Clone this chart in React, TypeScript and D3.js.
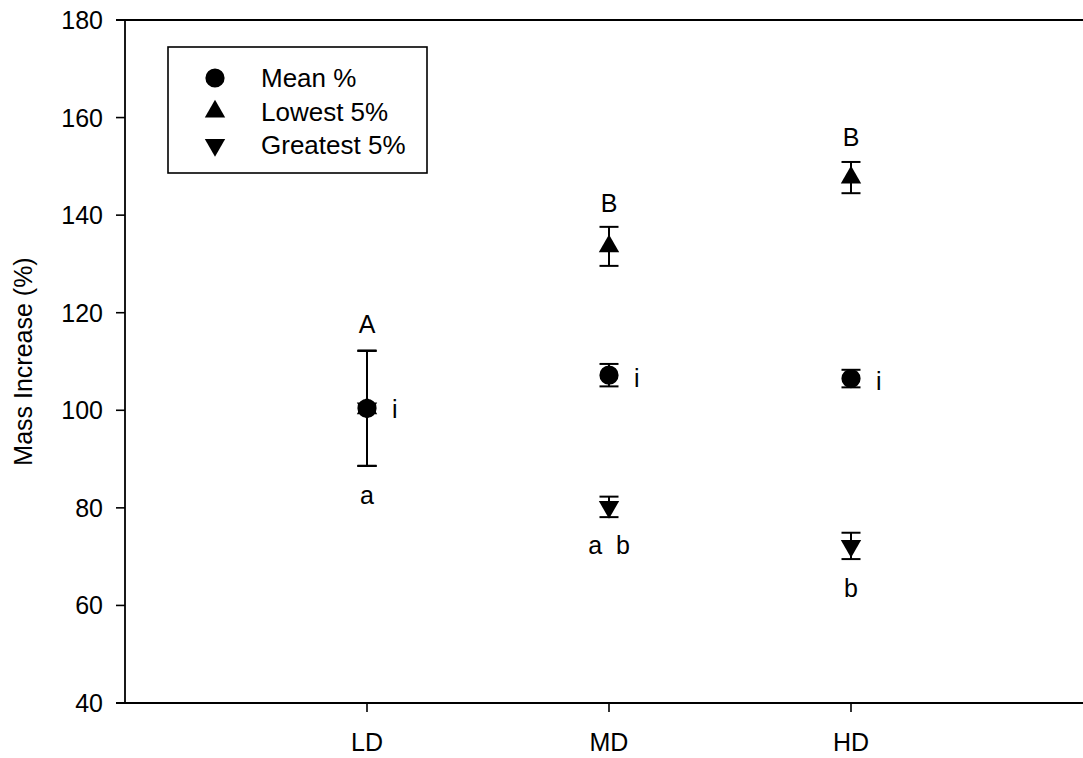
import React from "react";
import * as d3 from "d3";

const categories = ["LD", "MD", "HD"];
const meanValues = [100.4, 107.2, 106.5];
const meanErrors = [11.8, 2.3, 1.8];
const lowestValues = [100.4, 133.6, 147.7];
const lowestErrors = [11.8, 4.0, 3.2];
const greatestValues = [100.4, 80.2, 72.2];
const greatestErrors = [11.8, 2.1, 2.7];
const yTicks = [40, 60, 80, 100, 120, 140, 160, 180];
const seriesNames = ["Mean %", "Lowest 5%", "Greatest 5%"];

// letter annotations: category, y value (baseline), text
const annCats = ["LD", "LD", "LD", "MD", "MD", "MD", "HD", "HD", "HD"];
const annValues = [115.8, 80.8, 98.4, 140.6, 104.8, 70.5, 154.2, 104.2, 61.7];
const annTexts = ["A", "a", "i", "B", "i", "a\u00A0\u00A0b", "B", "i", "b"];

const W = 1083;
const H = 758;
const FONT = "'Liberation Sans', Arial, Helvetica, sans-serif";

export default function App() {
  const x = d3.scaleLinear().domain([0, 4]).range([125, 1093]);
  const y = d3.scaleLinear().domain([40, 180]).range([703, 20]);
  const catX = (c: string) => x(categories.indexOf(c) + 1);
  const annShift = (t: string) => (t === "i" ? 0.115 : 0);

  const circlePath = d3.symbol(d3.symbolCircle, 290)()!;
  const triPath = d3.symbol(d3.symbolTriangle, 180)()!;

  const series = [
    { values: meanValues, errors: meanErrors, shape: "circle" },
    { values: lowestValues, errors: lowestErrors, shape: "up" },
    { values: greatestValues, errors: greatestErrors, shape: "down" },
  ];

  const marker = (shape: string, cx: number, cy: number, key: string) => {
    if (shape === "circle")
      return <path key={key} d={circlePath} transform={`translate(${cx},${cy})`} fill="#000" />;
    if (shape === "up")
      return <path key={key} d={triPath} transform={`translate(${cx},${cy})`} fill="#000" />;
    return <path key={key} d={triPath} transform={`translate(${cx},${cy}) rotate(180)`} fill="#000" />;
  };

  const capW = 9.5;
  const x0 = x.range()[0];
  const yTop = y(180);
  const yBot = y(40);

  return (
    <svg
      width={W}
      height={H}
      style={{ position: "absolute", left: 0, top: 0, background: "#fff" }}
      fontFamily={FONT}
    >
      <rect x={0} y={0} width={W} height={H} fill="#fff" />
      {/* axes */}
      <line x1={x0} x2={x0} y1={yTop} y2={yBot} stroke="#000" strokeWidth={1.8} />
      <line x1={x0 - 9} x2={W + 20} y1={yBot} y2={yBot} stroke="#000" strokeWidth={1.8} />
      <line x1={x0 - 9} x2={W + 20} y1={yTop} y2={yTop} stroke="#000" strokeWidth={1.8} />
      {yTicks.map((t) => (
        <g key={t}>
          <line x1={x0 - 9} x2={x0} y1={y(t)} y2={y(t)} stroke="#000" strokeWidth={1.6} />
          <text x={x0 - 22} y={y(t)} dy="0.36em" textAnchor="end" fontSize={25} fill="#000">
            {t}
          </text>
        </g>
      ))}
      {categories.map((c) => (
        <g key={c}>
          <line x1={catX(c)} x2={catX(c)} y1={yBot} y2={yBot + 9} stroke="#000" strokeWidth={1.6} />
          <text x={catX(c)} y={751} textAnchor="middle" fontSize={25} fill="#000">
            {c}
          </text>
        </g>
      ))}
      <text
        transform={`translate(32,${(yTop + yBot) / 2}) rotate(-90)`}
        textAnchor="middle"
        fontSize={25}
        fill="#000"
      >
        Mass Increase (%)
      </text>

      {/* error bars */}
      {series.map((s, si) =>
        categories.map((c, ci) => {
          const cx = catX(c);
          const hi = y(s.values[ci] + s.errors[ci]);
          const lo = y(s.values[ci] - s.errors[ci]);
          return (
            <g key={`e${si}-${ci}`} stroke="#000" strokeWidth={2}>
              <line x1={cx} x2={cx} y1={hi} y2={lo} />
              <line x1={cx - capW} x2={cx + capW} y1={hi} y2={hi} />
              <line x1={cx - capW} x2={cx + capW} y1={lo} y2={lo} />
            </g>
          );
        })
      )}
      {/* markers */}
      {series.map((s, si) =>
        categories.map((c, ci) => marker(s.shape, catX(c), y(s.values[ci]), `m${si}-${ci}`))
      )}

      {/* annotations */}
      {annTexts.map((t, i) => (
        <text
          key={`a${i}`}
          x={x(categories.indexOf(annCats[i]) + 1 + annShift(t))}
          y={y(annValues[i])}
          textAnchor="middle"
          fontSize={25}
          fill="#000"
        >
          {t}
        </text>
      ))}

      {/* legend */}
      <rect x={168} y={47} width={259} height={126} fill="#fff" stroke="#000" strokeWidth={1.6} />
      {series.map((s, si) => (
        <g key={`l${si}`}>
          {marker(s.shape, 215, 78 + si * 33.5, `lm${si}`)}
          <text x={261} y={87 + si * 33.5} fontSize={26} fill="#000">
            {seriesNames[si]}
          </text>
        </g>
      ))}
    </svg>
  );
}
